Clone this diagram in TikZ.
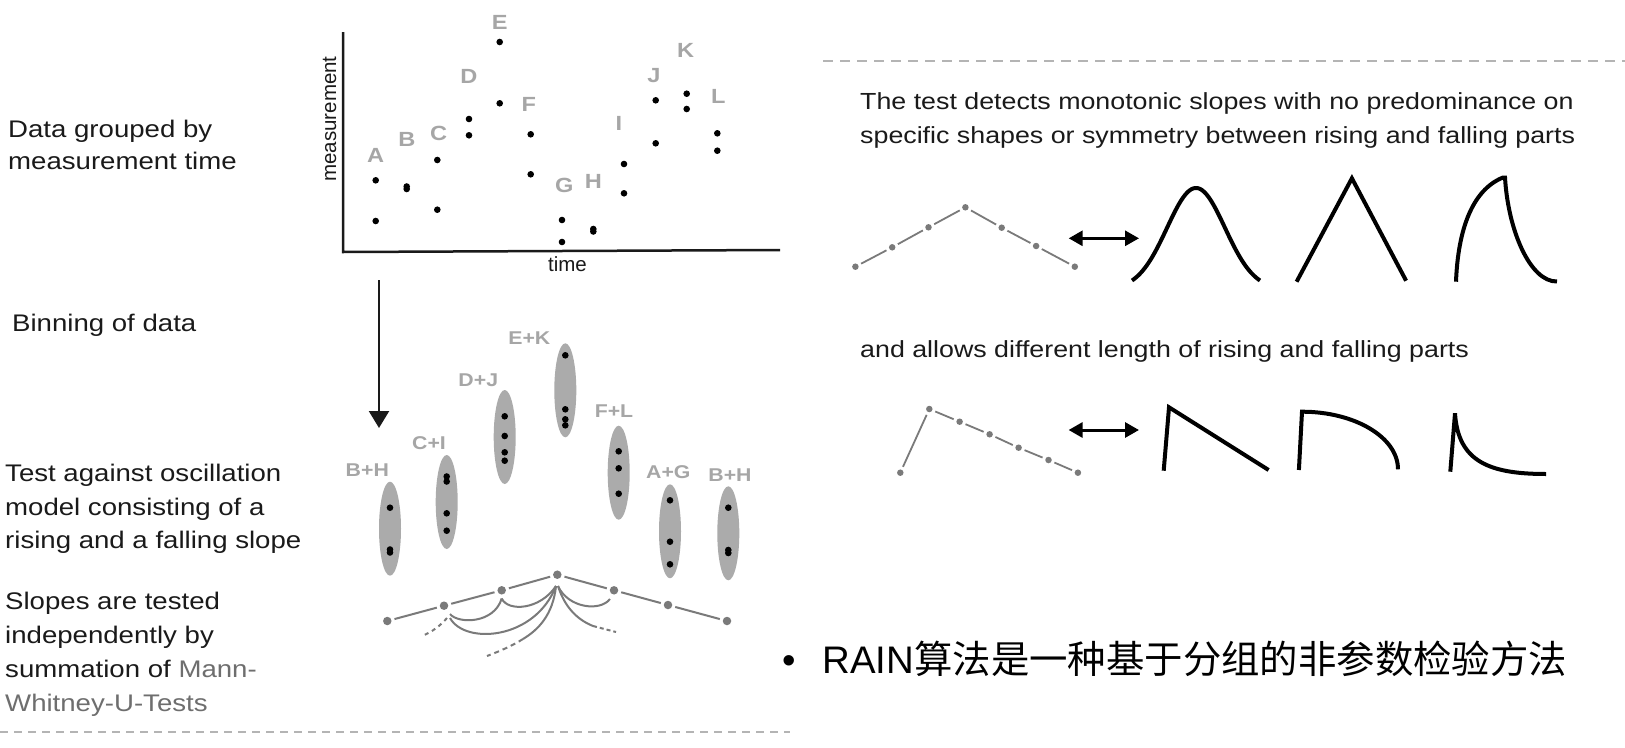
\documentclass[tikz,border=0pt]{standalone}
\usepackage{fontspec}
\setmainfont{Liberation Sans}
\newfontfamily\df[FakeStretch=1.15]{Liberation Sans}
\newfontfamily\cjk{Noto Sans CJK SC}
\usetikzlibrary{arrows.meta,shapes.geometric}
\definecolor{txt}{HTML}{1A1A1A}
\definecolor{lbl}{HTML}{A6A6A6}
\definecolor{ellc}{HTML}{ABABAB}
\definecolor{chainc}{HTML}{7A7A7A}
\definecolor{dashc}{HTML}{B4B4B4}
\definecolor{mwc}{HTML}{6E6E6E}
\begin{document}
\begin{tikzpicture}[x=1pt,y=-1pt,
  body/.style={anchor=base west, inner sep=0pt, text=txt, font=\df\fontsize{24}{28}\selectfont},
  rbody/.style={anchor=base west, inner sep=0pt, text=txt, font=\df\fontsize{23.3}{28}\selectfont},
  letter/.style={inner sep=0pt, text=lbl, font=\df\bfseries\fontsize{20.5}{24}\selectfont},
  glabel/.style={inner sep=0pt, text=lbl, font=\df\bfseries\fontsize{18.5}{22}\selectfont},
  axlabel/.style={inner sep=0pt, text=txt, font=\fontsize{20.5}{24}\selectfont},
  binell/.style={ellipse, fill=ellc, minimum width=22pt, minimum height=94pt, inner sep=0pt},
  cdot/.style={circle, fill=chainc, inner sep=0pt, minimum size=8.5pt},
  sdot/.style={circle, fill=chainc, inner sep=0pt, minimum size=6.5pt},
  cline/.style={draw=chainc, line width=2pt, shorten <=3pt, shorten >=3pt},
  sline/.style={draw=chainc, line width=1.8pt, shorten <=3pt, shorten >=3pt},
  arcl/.style={draw=chainc, line width=2pt},
  curvestroke/.style={draw=black, line width=4pt, line join=miter},
  dbl/.style={draw=black, line width=3pt, {Triangle[width=15pt,length=14pt]}-{Triangle[width=15pt,length=14pt]}},
  sepline/.style={draw=dashc, line width=2.2pt, dash pattern=on 10pt off 7pt}
]
\useasboundingbox (0,0) rectangle (1625,747);
\fill[white] (0,0) rectangle (1625,747);

% ---------- left texts ----------
\node[body] (t1a) at (8,137.5) {Data grouped by};
\node[body] (t1b) at (8,169.6) {measurement time};
\node[body] (t2) at (12,331) {Binning of data};
\node[body] (t3a) at (5,481.7) {Test against oscillation};
\node[body] (t3b) at (5,515) {model consisting of a};
\node[body] (t3c) at (5,548) {rising and a falling slope};
\node[body] (t4a) at (5,609.5) {Slopes are tested};
\node[body] (t4b) at (5,643.5) {independently by};
\node[body] (t4c) at (5,677) {summation of \textcolor{mwc}{Mann-}};
\node[body, text=mwc] (t4d) at (5,711) {Whitney-U-Tests};

% ---------- plot ----------
\draw[line width=2.5pt, draw=txt] (343,32) -- (343,252) -- (780,250);
\node[axlabel, anchor=base] (time) at (567.5,271.5) {time};
\node[axlabel, rotate=90, anchor=base] (meas) at (336,119) {measurement};

\node[letter] (A) at (375.7,155) {A};
\node[letter] (B) at (407,139) {B};
\node[letter] (C) at (438.7,133) {C};
\node[letter] (D) at (469,76) {D};
\node[letter] (E) at (499.7,22) {E};
\node[letter] (F) at (528.7,104) {F};
\node[letter] (G) at (564.3,185) {G};
\node[letter] (H) at (593.3,181) {H};
\node[letter] (I) at (619,123) {I};
\node[letter] (J) at (654,76) {J};
\node[letter] (K) at (685.7,50) {K};
\node[letter] (L) at (718.3,96.7) {L};

\foreach \px/\py in {375.7/180.3, 375.7/221, 406.7/186.5, 406.7/189, 437.3/160, 437.3/209.7,
  469/119, 469/135.3, 499.7/42, 499.7/103.3, 530.7/134.3, 530.7/174.3,
  562/220, 562/242, 593.3/229, 593.3/231.5, 624/164, 624/193.3,
  655.7/100.3, 655.7/143.3, 686.7/93.7, 686.7/109, 717.3/133.3, 717.3/150.7}
  \fill[black] (\px,\py) circle[radius=3.3pt];

% ---------- binning arrow ----------
\coordinate (arrS) at (379,280);
\coordinate (arrE) at (379,428);
\draw[draw=txt, line width=2.3pt, -{Triangle[width=20pt,length=17pt]}] (arrS) -- (arrE);

% ---------- bins ----------
\node[binell] (bh1) at (390,528.7) {};
\node[binell] (ci) at (446.7,502) {};
\node[binell] (dj) at (504.7,437) {};
\node[binell] (ek) at (565.3,390.3) {};
\node[binell] (fl) at (618.7,472.7) {};
\node[binell] (ag) at (670,531.3) {};
\node[binell] (bh2) at (728.3,533.3) {};

\node[glabel] (lbh1) at (367.3,470) {B+H};
\node[glabel] (lci) at (429,442.7) {C+I};
\node[glabel] (ldj) at (478.3,380) {D+J};
\node[glabel] (lek) at (529.3,338.3) {E+K};
\node[glabel] (lfl) at (614,410.7) {F+L};
\node[glabel] (lag) at (668.3,471.7) {A+G};
\node[glabel] (lbh2) at (730,475) {B+H};

\foreach \px/\py in {390/507.7, 390/549.5, 390/552.5,
  446.7/476.5, 446.7/481.5, 446.7/513.3, 446.7/530.7,
  504.7/416.3, 504.7/436, 504.7/452.3, 504.7/460.7,
  565.3/355.3, 565.3/409.3, 565.3/419.3, 565.3/425.3,
  618.7/451.3, 618.7/468.3, 618.7/493.7,
  670/500.3, 670/541.7, 670/564.3,
  728.3/507.7, 728.3/550, 728.3/553}
  \fill[black] (\px,\py) circle[radius=3.3pt];

% ---------- chain with arcs ----------
\node[cdot] (c1) at (387.3,621) {};
\node[cdot] (c2) at (444,605.7) {};
\node[cdot] (c3) at (501.7,590.3) {};
\node[cdot] (c4) at (557.3,574.7) {};
\node[cdot] (c5) at (614,590.3) {};
\node[cdot] (c6) at (668,605) {};
\node[cdot] (c7) at (727,621) {};
\draw[cline] (c1) -- (c2);
\draw[cline] (c2) -- (c3);
\draw[cline] (c3) -- (c4);
\draw[cline] (c4) -- (c5);
\draw[cline] (c5) -- (c6);
\draw[cline] (c6) -- (c7);

\coordinate (e1) at (523,639);
\coordinate (e2) at (487,656);
\coordinate (f1) at (593,626);
\coordinate (f2) at (616,632);
\coordinate (g1) at (422,636);
\draw[arcl] (450,614) .. controls (458,624) and (494,624) .. (501.7,598.5);
\draw[arcl] (501.7,598.5) .. controls (508,612) and (540,610) .. (556,586);
\draw[arcl] (558,586) .. controls (568,608) and (600,612) .. (610,599);
\draw[arcl] (450,618) .. controls (465,645) and (535,640) .. (556,586);
\draw[arcl] (556,586) .. controls (553,615) and (538,630) .. (e1);
\draw[arcl, dash pattern=on 5pt off 4pt] (e1) .. controls (512,646) and (500,651) .. (e2);
\draw[arcl] (558,586) .. controls (565,608) and (578,620) .. (f1);
\draw[arcl, dash pattern=on 4pt off 3pt] (f1) -- (f2);
\draw[arcl, dash pattern=on 4pt off 4pt] (447,618) .. controls (440,626) and (432,632) .. (g1);

% ---------- right texts ----------
\node[rbody] (r1a) at (860,109.5) {The test detects monotonic slopes with no predominance on};
\node[rbody] (r1b) at (860,143.5) {specific shapes or symmetry between rising and falling parts};
\node[rbody] (r2) at (860,357) {and allows different length of rising and falling parts};

% ---------- right top chain ----------
\node[sdot] (u1) at (855.4,266.7) {};
\node[sdot] (u2) at (892.2,247.3) {};
\node[sdot] (u3) at (928.5,227.3) {};
\node[sdot] (u4) at (965.4,207.3) {};
\node[sdot] (u5) at (1001.7,227.7) {};
\node[sdot] (u6) at (1036.1,246) {};
\node[sdot] (u7) at (1074.8,266.7) {};
\draw[sline] (u1) -- (u2);
\draw[sline] (u2) -- (u3);
\draw[sline] (u3) -- (u4);
\draw[sline] (u4) -- (u5);
\draw[sline] (u5) -- (u6);
\draw[sline] (u6) -- (u7);

\coordinate (da1) at (1068.7,238.3);
\coordinate (da2) at (1139,238.3);
\draw[dbl] (da1) -- (da2);

% bell
\draw[curvestroke, domain=-64:64, samples=90, smooth]
  plot ({1196+\x}, {280.5 - 92.5*(exp(-(\x*\x)/(2*29*29)) - 0.0876)/0.9124});
% triangle
\draw[curvestroke] (1296.6,281.7) -- (1351.9,178.3) -- (1406.1,280.7);
% skewed
\draw[curvestroke] (1456,281.7) .. controls (1458,230) and (1472,190) .. (1503,177.5) -- (1505,177.5)
  .. controls (1508,230) and (1530,282) .. (1557,281.5);

% ---------- right bottom chain ----------
\node[sdot] (v1) at (900.3,472.7) {};
\node[sdot] (v2) at (929.3,409) {};
\node[sdot] (v3) at (959.6,421.7) {};
\node[sdot] (v4) at (989.6,434.3) {};
\node[sdot] (v5) at (1018.6,447.7) {};
\node[sdot] (v6) at (1048.5,460) {};
\node[sdot] (v7) at (1077.9,472.7) {};
\draw[sline] (v1) -- (v2);
\draw[sline] (v2) -- (v3);
\draw[sline] (v3) -- (v4);
\draw[sline] (v4) -- (v5);
\draw[sline] (v5) -- (v6);
\draw[sline] (v6) -- (v7);

\coordinate (db1) at (1068.6,430);
\coordinate (db2) at (1139,430);
\draw[dbl] (db1) -- (db2);

\draw[curvestroke] (1163.7,470.7) -- (1169,407.3) -- (1268.6,470);
\draw[curvestroke] (1298.9,470) -- (1302,411.7) .. controls (1355,411.7) and (1398,437.4) .. (1398,469.3);
\draw[curvestroke] (1450.3,471.7) -- (1455,413.3) .. controls (1458,462) and (1490,474) .. (1546,474);

% ---------- separators ----------
\coordinate (s1a) at (823,61);
\coordinate (s1b) at (1625,61);
\draw[sepline] (s1a) -- (s1b);
\coordinate (s2a) at (0,731.7);
\coordinate (s2b) at (790,731.7);
\draw[draw=dashc, line width=1.6pt, dash pattern=on 8pt off 6pt] (s2a) -- (s2b);

% ---------- bullet ----------
\node[anchor=base west, inner sep=0pt, text=black, font=\fontsize{38.4}{46}\selectfont] (bul) at (782,673)
  {\textbullet\hspace{27pt}RAIN{\cjk 算法是一种基于分组的非参数检验方法}};
\end{tikzpicture}
\end{document}
